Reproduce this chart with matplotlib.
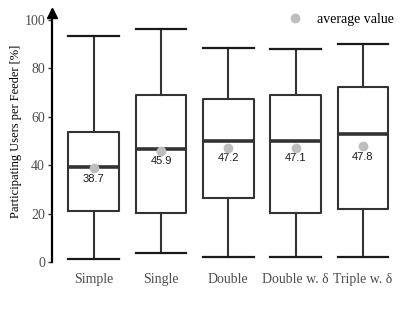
import matplotlib
matplotlib.use("Agg")
import matplotlib.pyplot as plt
from matplotlib.lines import Line2D

categories = ["Simple", "Single", "Double", "Double w. δ", "Triple w. δ"]
whisker_low = [1.4, 3.6, 1.9, 1.9, 1.9]
q1 = [21.0, 20.1, 26.3, 20.4, 21.9]
median = [39.0, 46.5, 50.0, 50.0, 52.9]
q3 = [53.8, 68.7, 67.4, 69.0, 72.0]
whisker_high = [93.4, 96.0, 88.3, 87.9, 89.7]
means = [38.7, 45.9, 47.2, 47.1, 47.8]
yticks = [0, 20, 40, 60, 80, 100]

fig = plt.figure(figsize=(4.15, 3.12), dpi=100)
ax = fig.add_axes([52/415, 1-262/312, (400-52)/415, (262-10.3)/312])

stats = []
for i, c in enumerate(categories):
    stats.append(dict(label=c, whislo=whisker_low[i], q1=q1[i], med=median[i],
                      q3=q3[i], whishi=whisker_high[i], fliers=[]))

ax.bxp(stats, positions=range(1, len(categories)+1), widths=0.75, showfliers=False,
       boxprops=dict(color="#333333", linewidth=1.5),
       medianprops=dict(color="#333333", linewidth=2.6, solid_capstyle="butt"),
       whiskerprops=dict(color="#333333", linewidth=1.5),
       capprops=dict(color="#1a1a1a", linewidth=1.6), capwidths=0.75)

pos = list(range(1, len(categories)+1))
ax.plot(pos, means, "o", color="#bebebe", markersize=6, zorder=5, linestyle="none")
for p, m in zip(pos, means):
    ax.annotate(f"{m:.1f}", (p, m), xytext=(0, -7.5), textcoords="offset points",
                ha="center", va="center", fontsize=8, family="Liberation Sans", color="#1a1a1a")

ax.set_xlim(0.382, 5.55)
ax.set_ylim(0, 103.8)
ax.set_yticks(yticks)
ax.set_xticks(pos)
ax.set_xticklabels(categories)
for lab in ax.get_xticklabels() + ax.get_yticklabels():
    lab.set_family("Liberation Serif")
    lab.set_fontsize(10)
    lab.set_color("#4d4d4d")
ax.tick_params(axis="x", length=0, pad=8)
ax.tick_params(axis="y", length=3, width=1, color="#333333", pad=2)
for s in ["top", "right", "bottom"]:
    ax.spines[s].set_visible(False)
ax.spines["left"].set_linewidth(1.6)
ax.spines["left"].set_color("black")
ax.plot([0], [0.99], marker="^", color="black", markersize=7, transform=ax.transAxes, clip_on=False)

ax.set_ylabel("Participating Users per Feeder [%]", family="Liberation Serif", fontsize=9, color="black")
ax.yaxis.set_label_coords(-0.087, 0.52)

handle = Line2D([], [], marker="o", color="#bebebe", linestyle="none", markersize=6)
leg = ax.legend([handle], ["average value"], loc="center left", frameon=False,
                bbox_to_anchor=(0.678, 0.965), handlelength=1.0, handletextpad=1.1,
                borderpad=0, borderaxespad=0,
                prop=dict(family="Liberation Serif", size=10))

fig.savefig("out.png", dpi=100)
